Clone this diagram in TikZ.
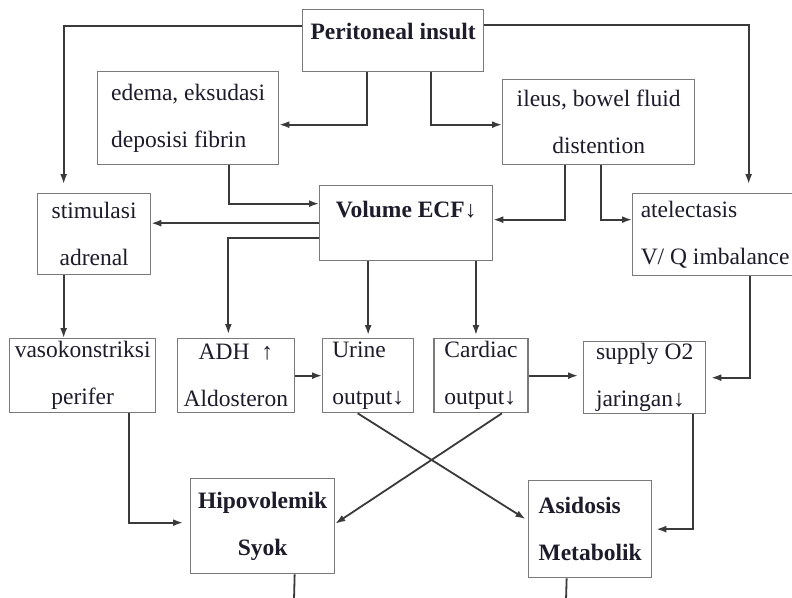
\documentclass[tikz,border=0pt]{standalone}
\usepackage{fontspec}
\setmainfont{Liberation Serif}
\usepackage{tikz}
\usetikzlibrary{positioning,arrows.meta}

\definecolor{BOX_GRAY}{HTML}{7A7A7A}
\definecolor{LINE_GRAY}{HTML}{3A3A3A}
\definecolor{TXT_COLOR}{HTML}{1C1C2A}

\newcommand{\flowfont}{\fontsize{23.5pt}{47pt}\selectfont}

\tikzstyle{frame} = [rectangle, draw=BOX_GRAY, line width=1.3pt, inner sep=0pt, text=TXT_COLOR, font=\flowfont]
\tikzstyle{BOX}   = [frame, anchor=north west]
\tikzstyle{BOLD}  = [font=\flowfont\bfseries]
\tikzstyle{conn}  = [draw=LINE_GRAY, line width=1.8pt, -{Latex[length=10pt,width=7pt]}]
\tikzstyle{wire}  = [draw=LINE_GRAY, line width=1.8pt]
\tikzset{wh/.style 2 args={minimum width=#1pt, minimum height=#2pt}}

\begin{document}
\begin{tikzpicture}[x=1pt, y=-1pt]
  % canvas
  \useasboundingbox (0,0) rectangle (792,597);
  \clip (0,0) rectangle (792,597);
  \fill[white] (0,0) rectangle (792,597);

  % top row
  \node[BOX, BOLD, wh={181}{62}, text height=16pt, text depth=19pt] (PERI) at (302,9) {Peritoneal insult};
  \node[BOX, align=left, wh={181}{93}] (EDEMA) at (97,71) {edema, eksudasi\\deposisi fibrin};
  \node[BOX, align=center, wh={192}{85}] (ILEUS) at (502,79) {ileus, bowel fluid\\distention};

  % second row
  \node[BOX, align=center, wh={113}{81}] (STIM) at (37,193) {stimulasi\\adrenal};
  \node[BOX, BOLD, wh={173}{75}, text height=16pt, text depth=27pt] (VOL) at (319,185) {Volume ECF↓};
  \node[BOX, align=left, wh={165}{82}] (ATEL) at (632,193) {atelectasis\\V/ Q imbalance};

  % third row
  \node[BOX, align=center, wh={146}{74}] (VASO) at (9,338) {vasokonstriksi\\perifer};
  \node[BOX, align=left, wh={91}{74}] (URINE) at (322,338) {Urine\\output↓};
  \node[BOX, align=center, wh={117}{74}, left=27pt of URINE] (ADH) {ADH\enspace↑\\Aldosteron};
  \node[BOX, align=left, wh={94}{74}, right=19pt of URINE] (CARD) {Cardiac\\output↓};
  \node[BOX, align=left, wh={122}{72}] (SUPPLY) at (583,341) {supply O2\\jaringan↓};

  % bottom row
  \node[BOX, BOLD, align=center, wh={144}{95}] (HIPO) at (190,478) {Hipovolemik\\Syok};
  \node[BOX, BOLD, align=left, wh={123}{97}] (ASID) at (528,480) {Asidosis\\Metabolik};
  \coordinate (HIPO_OUT) at (294,600);
  \coordinate (ASID_OUT) at (566,600);

  % from peritoneal insult
  \draw[conn, shorten >=9pt] ([yshift=15pt]PERI.west) -| ([xshift=-30.5pt]STIM.north);
  \draw[conn, shorten >=9pt] ([yshift=16pt]PERI.east) -| ([xshift=33.5pt]ATEL.north);
  \draw[conn] ([xshift=-26.5pt]PERI.south) |- ([yshift=-6.5pt]EDEMA.east);
  \draw[conn] ([xshift=37.5pt]PERI.south) |- ([yshift=-2.5pt]ILEUS.west);

  % into and out of volume ECF
  \draw[conn] ([xshift=40.5pt]EDEMA.south) |- ([yshift=19.5pt]VOL.west);
  \draw[conn] ([xshift=-34pt]ILEUS.south) |- ([yshift=3.5pt]VOL.east);
  \draw[conn] ([xshift=2pt]ILEUS.south) |- ([yshift=15pt]ATEL.west);
  \draw[conn] (VOL.west) -- (VOL.west -| STIM.east);
  \draw[conn, shorten >=4pt] ([yshift=-14.5pt]VOL.west) -| ([xshift=-7.5pt]ADH.north);
  \draw[conn, shorten >=3pt] (VOL.south -| URINE.north) -- (URINE.north);
  \draw[conn, shorten >=3pt] ([xshift=-5pt]VOL.south -| CARD.north) -- ([xshift=-5pt]CARD.north);

  % third row links
  \draw[conn] ([xshift=-30.5pt]STIM.south) -- ([xshift=-30.5pt]STIM.south |- VASO.north);
  \draw[conn] (ADH.east) -- (URINE.west);
  \draw[conn, shorten >=5pt] (CARD.east) -- (CARD.east -| SUPPLY.west);
  \draw[conn, shorten >=5pt] ([xshift=34.5pt]ATEL.south) |- (SUPPLY.east);

  % to the outcomes
  \draw[conn, shorten >=7pt] ([xshift=46pt]VASO.south) |- ([yshift=3.5pt]HIPO.west);
  \draw[conn, shorten >=3pt] ([xshift=-10.5pt]URINE.south) -- ([yshift=8.5pt]ASID.west);
  \draw[conn] ([xshift=21pt]CARD.south) -- ([yshift=2.5pt]HIPO.east);
  \draw[conn, shorten >=4pt] ([xshift=48pt]SUPPLY.south) |- (ASID.east);
  \draw[wire] ([xshift=32pt]HIPO.south) -- (HIPO_OUT);
  \draw[wire] ([xshift=-23.5pt]ASID.south) -- (ASID_OUT);
\end{tikzpicture}
\end{document}
